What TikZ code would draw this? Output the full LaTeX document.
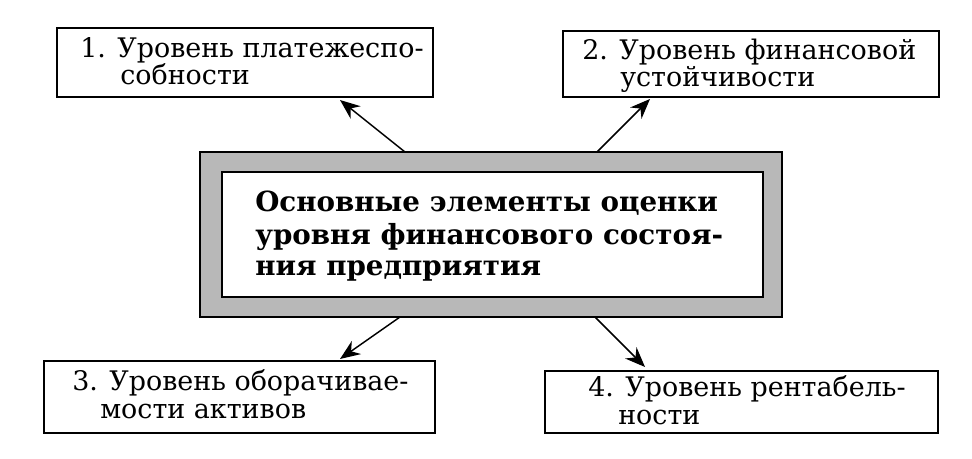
\documentclass[tikz,border=0pt]{standalone}
\usepackage{fontspec}
\setmainfont{DejaVu Serif}
\usetikzlibrary{arrows.meta,fit}
\begin{document}
\begin{tikzpicture}[x=0.75pt,y=-0.75pt,
  box/.style={draw=black,line width=1.1pt,inner sep=0pt,fill=white},
  frame/.style={draw=black,line width=1.3pt,inner sep=0pt,fill=black!28},
  lbl/.style={anchor=base west,inner sep=0pt,font=\fontsize{20.2}{23}\selectfont},
  big/.style={anchor=base west,inner sep=0pt,font=\fontsize{20.8}{24}\selectfont\bfseries},
  arr/.style={line width=1.1pt,-{Stealth[length=15pt,width=12pt]}}]
\useasboundingbox (0,0) rectangle (972,459);
% boxes
\node[box,fit={(57,28) (433,97)}] (b1) {};
\node[box,fit={(563,31) (939,97)}] (b2) {};
\node[box,fit={(44,361) (435,433)}] (b3) {};
\node[box,fit={(545,371) (938,433)}] (b4) {};
\node[frame,fit={(200,152) (782,317)}] (outer) {};
\node[box,fit={(222,172) (763,297)}] (inner) {};
% texts
\node[lbl] (t1a) at (80,58) {1. Уровень платежеспо-};
\node[lbl] (t1b) at (120,85) {собности};
\node[lbl] (t2a) at (582,60) {2. Уровень финансовой};
\node[lbl] (t2b) at (620,87) {устойчивости};
\node[lbl] (t3a) at (72,391) {3. Уровень оборачивае-};
\node[lbl] (t3b) at (100,419) {мости активов};
\node[lbl] (t4a) at (588,397) {4. Уровень рентабель-};
\node[lbl] (t4b) at (618,425) {ности};
\node[big] (c1) at (255,212) {Основные элементы оценки};
\node[big] (c2) at (255,245) {уровня финансового состоя-};
\node[big] (c3) at (255,276) {ния предприятия};
% arrows
\coordinate (s1) at (405,152);
\coordinate (e1) at (340,100);
\coordinate (s2) at (597,152);
\coordinate (e2) at (650,99);
\coordinate (s3) at (400,317);
\coordinate (e3) at (340,359);
\coordinate (s4) at (595,317);
\coordinate (e4) at (645,367);
\draw[arr] (s1) -- (e1);
\draw[arr] (s2) -- (e2);
\draw[arr] (s3) -- (e3);
\draw[arr] (s4) -- (e4);
\end{tikzpicture}
\end{document}
